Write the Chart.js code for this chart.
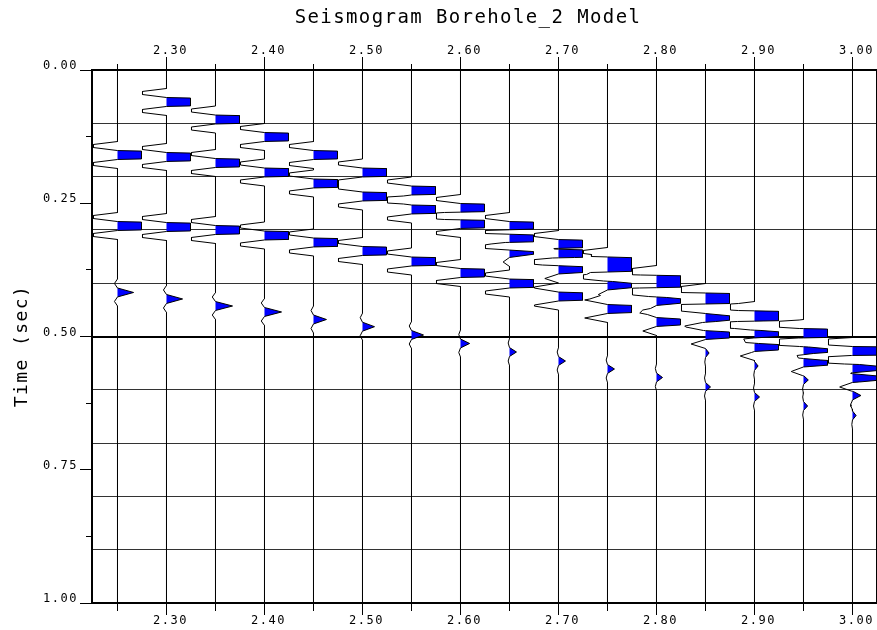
<!DOCTYPE html>
<html>
<head>
<meta charset="utf-8">
<title>Seismogram Borehole_2 Model</title>
<script src="https://cdn.jsdelivr.net/npm/chart.js@4/dist/chart.umd.min.js"></script>
<style>
  html, body { margin: 0; padding: 0; background: #ffffff; }
  #plot { display: block; }
</style>
</head>
<body>
<canvas id="plot" width="877" height="630"></canvas>
<script>
// ---- text ----
const CHART_TITLE = 'Seismogram Borehole_2 Model';
const Y_TITLE = 'Time (sec)';

// ---- axes ----
const TRACE_OFFSETS = [2.25, 2.30, 2.35, 2.40, 2.45, 2.50, 2.55, 2.60, 2.65, 2.70, 2.75, 2.80, 2.85, 2.90, 2.95, 3.00];
const X_TICKS = [2.25, 2.30, 2.35, 2.40, 2.45, 2.50, 2.55, 2.60, 2.65, 2.70, 2.75, 2.80, 2.85, 2.90, 2.95, 3.00];
const Y_TICKS = [0, 0.125, 0.25, 0.375, 0.5, 0.625, 0.75, 0.875, 1.0];
const GRID_TIMES = [0, 0.1, 0.2, 0.3, 0.4, 0.5, 0.6, 0.7, 0.8, 0.9, 1.0];

// ---- source wavelet: [time offset (s), relative amplitude] ----
const WAVELET = [[-0.0253, 0], [-0.0169, -0.19], [-0.0084, 0], [0, 1], [0.0084, 0], [0.0169, -0.19], [0.0253, 0]];

// ---- arrivals per trace (s) and amplitudes (clip units); null = no arrival ----
const DIRECT_TIMES = [null, 0.0600, 0.0929, 0.1257, 0.1595, 0.1923, 0.2261, 0.2589, 0.2927, 0.3265, 0.3583, 0.3921, 0.4259, 0.4597, 0.4934, 0.5272];
const DIRECT_AMPS  = [null, 8, 8, 8, 8, 8, 8, 8, 8, 8, 8, 8, 8, 8, 8, 8];

const REFL1_TIMES = [0.1595, 0.1632, 0.1745, 0.1923, 0.2129, 0.2373, 0.2617, 0.2889, 0.3152, 0.3443, 0.3715, 0.4015, 0.4315, 0.4634, 0.4944, 0.5272];
const REFL1_AMPS  = [8, 8, 8, 8, 8, 8, 8, 8, 8, 8, 8, 8, 8, 8, 8, 8];

const REFL2_TIMES = [0.2927, 0.2946, 0.3002, 0.3105, 0.3236, 0.3396, 0.3593, 0.3809, 0.4006, 0.4250, 0.4484, 0.4728, 0.4972, 0.5197, 0.5488, 0.5779];
const REFL2_AMPS  = [8, 8, 8, 8, 8, 8, 8, 8, 8, 6, 5, 3, 3, 3, 2.5, 2.5];

const REFL3_TIMES = [0.4174, 0.4296, 0.4428, 0.4540, 0.4681, 0.4816, 0.4972, 0.5131, 0.5291, 0.5460, 0.5610, 0.5769, 0.5947, 0.6135, 0.6304, 0.6482];
const REFL3_AMPS  = [0.67, 0.67, 0.71, 0.71, 0.54, 0.50, 0.50, 0.38, 0.29, 0.29, 0.29, 0.25, 0.21, 0.21, 0.17, 0.15];

const HEAD1_TIMES = [null, null, null, null, null, null, null, null, 0.3433, 0.3743, 0.4043, 0.4334, 0.4653, 0.4962, 0.5272, 0.5600];
const HEAD1_AMPS  = [null, null, null, null, null, null, null, null, 1.4, 3, 2, 2, 2, 2.5, 2, 2.5];

const HEAD2_TIMES = [null, null, null, null, null, null, null, null, null, null, null, null, 0.5310, 0.5553, 0.5816, 0.6107];
const HEAD2_AMPS  = [null, null, null, null, null, null, null, null, null, null, null, null, 0.15, 0.15, 0.2, 0.35];

const ARRIVALS = [
  [DIRECT_TIMES, DIRECT_AMPS],
  [REFL1_TIMES, REFL1_AMPS],
  [REFL2_TIMES, REFL2_AMPS],
  [REFL3_TIMES, REFL3_AMPS],
  [HEAD1_TIMES, HEAD1_AMPS],
  [HEAD2_TIMES, HEAD2_AMPS]
];

// ---- display settings ----
const CLIP = 1;            // amplitude clip level
const GAIN = 0.0245;       // offset units per clip unit
const X_MIN = 2.22398, X_MAX = 3.02398;
const FONT = '"DejaVu Sans Mono", "Liberation Mono", monospace';
const FILL_COLOR = '#0000ff';

// value of the wavelet at a time offset
function waveletAt(dt) {
  const first = WAVELET[0][0], last = WAVELET[WAVELET.length - 1][0];
  if (dt <= first || dt >= last) return 0;
  for (let k = 1; k < WAVELET.length; k++) {
    const [t1, a1] = WAVELET[k];
    if (dt <= t1) {
      const [t0, a0] = WAVELET[k - 1];
      return a0 + (a1 - a0) * (dt - t0) / (t1 - t0);
    }
  }
  return 0;
}

// vertices of one clipped wiggle trace: [time, amplitude]
function traceVertices(i) {
  const events = [];
  ARRIVALS.forEach(([times, amps]) => {
    if (times[i] !== null) events.push([times[i], amps[i]]);
  });
  const ts = [0, 1];
  events.forEach(([te]) => WAVELET.forEach(([dt]) => ts.push(te + dt)));
  ts.sort((a, b) => a - b);
  const times = ts.filter((t, k) => t >= 0 && t <= 1 && (k === 0 || t - ts[k - 1] > 1e-9));
  const amp = t => events.reduce((s, [te, a]) => s + a * waveletAt(t - te), 0);
  const raw = times.map(t => [t, amp(t)]);
  const out = [raw[0]];
  for (let k = 1; k < raw.length; k++) {
    const [t0, v0] = raw[k - 1], [t1, v1] = raw[k];
    const cuts = [];
    [-CLIP, 0, CLIP].forEach(L => {
      if ((v0 - L) * (v1 - L) < 0) cuts.push([t0 + (L - v0) * (t1 - t0) / (v1 - v0), L]);
    });
    cuts.sort((a, b) => a[0] - b[0]).forEach(c => out.push(c));
    out.push(raw[k]);
  }
  return out.map(([t, v]) => [t, Math.max(-CLIP, Math.min(CLIP, v))]);
}

// one wiggle line and one positive-lobe fill per trace
const datasets = [];
TRACE_OFFSETS.forEach((off, i) => {
  const verts = traceVertices(i);
  datasets.push({
    label: 'Trace ' + off.toFixed(2),
    data: verts.map(([t, v]) => ({ x: off + v * GAIN, y: t })),
    borderColor: '#000000',
    borderWidth: 1,
    pointRadius: 0,
    pointHitRadius: 0,
    tension: 0,
    fill: false,
    xAxisID: 'x',
    yAxisID: 'y'
  });
  datasets.push({
    label: 'Fill ' + off.toFixed(2),
    data: verts.map(([t, v]) => ({ x: off + Math.max(0, v) * GAIN, y: t })),
    borderColor: 'rgba(0,0,0,0)',
    borderWidth: 0,
    backgroundColor: FILL_COLOR,
    pointRadius: 0,
    pointHitRadius: 0,
    tension: 0,
    fill: { value: off },
    xAxisID: 'x',
    yAxisID: 'y'
  });
});

const isMajorX = v => Math.round(v * 100) % 10 === 0;
const isMajorY = v => Math.round(v * 1000) % 250 === 0;
const tickFont = { family: FONT, size: 12, lineHeight: 1 };

function offsetAxis(position, size, tickLen, minorOffset) {
  return {
    type: 'linear',
    position,
    min: X_MIN,
    max: X_MAX,
    afterBuildTicks: s => { s.ticks = X_TICKS.map(v => ({ value: v })); },
    afterFit: s => { s.height = size; },
    ticks: {
      callback: v => isMajorX(v) ? v.toFixed(2) : '',
      font: tickFont,
      color: '#000000',
      padding: 0,
      autoSkip: false,
      maxRotation: 0,
      minRotation: 0,
      labelOffset: 4
    },
    grid: {
      drawOnChartArea: false,
      drawTicks: true,
      tickLength: tickLen,
      tickColor: '#000000',
      tickWidth: 1,
      tickBorderDash: [tickLen, tickLen],
      tickBorderDashOffset: c => isMajorX(c.tick.value) ? 0 : minorOffset
    },
    border: { display: true, color: '#000000', width: 2 }
  };
}

// title text and letter spacing for all labels
const textPlugin = {
  id: 'seismoText',
  beforeDraw(chart) {
    chart.ctx.letterSpacing = '1.5px';
  },
  afterDraw(chart) {
    const c = chart.ctx;
    c.save();
    c.fillStyle = '#000000';
    c.textAlign = 'center';
    c.textBaseline = 'middle';
    c.letterSpacing = '1.4px';
    c.font = '19px ' + FONT;
    c.fillText(CHART_TITLE, 468, 18);
    c.translate(22, 346);
    c.rotate(-Math.PI / 2);
    c.letterSpacing = '1.4px';
    c.font = '18px ' + FONT;
    c.fillText(Y_TITLE, 0, 0);
    c.restore();
  }
};

new Chart(document.getElementById('plot'), {
  type: 'line',
  data: { datasets },
  plugins: [textPlugin],
  options: {
    indexAxis: 'y',
    responsive: false,
    animation: false,
    devicePixelRatio: 1,
    layout: { padding: 0 },
    events: [],
    plugins: {
      legend: { display: false },
      tooltip: { enabled: false },
      title: { display: false },
      filler: { drawTime: 'beforeDatasetsDraw' }
    },
    scales: {
      x: offsetAxis('bottom', 27, 12, 5),
      xTop: offsetAxis('top', 70, 13, 19),
      y: {
        type: 'linear',
        position: 'left',
        min: 0,
        max: 1,
        reverse: true,
        afterBuildTicks: s => { s.ticks = Y_TICKS.map(v => ({ value: v })); },
        afterFit: s => { s.width = 92; },
        ticks: {
          callback: v => isMajorY(v) ? v.toFixed(2) : '',
          font: tickFont,
          color: '#000000',
          padding: 2,
          autoSkip: false,
          labelOffset: -4
        },
        grid: {
          drawOnChartArea: false,
          drawTicks: true,
          tickLength: 12,
          tickColor: '#000000',
          tickWidth: 1,
          tickBorderDash: [12, 12],
          tickBorderDashOffset: c => isMajorY(c.tick.value) ? 0 : 18
        },
        border: { display: true, color: '#000000', width: 2 }
      },
      yGrid: {
        type: 'linear',
        position: 'right',
        min: 0,
        max: 1,
        reverse: true,
        afterBuildTicks: s => { s.ticks = GRID_TIMES.map(v => ({ value: v })); },
        afterFit: s => { s.width = 1; },
        ticks: { display: false },
        grid: {
          drawOnChartArea: true,
          drawTicks: false,
          color: c => Math.abs(c.tick.value - 0.5) < 1e-6 ? '#000000' : '#333333',
          lineWidth: c => Math.abs(c.tick.value - 0.5) < 1e-6 ? 2 : 1
        },
        border: { display: true, color: '#000000', width: 1 }
      }
    }
  }
});
</script>
</body>
</html>
